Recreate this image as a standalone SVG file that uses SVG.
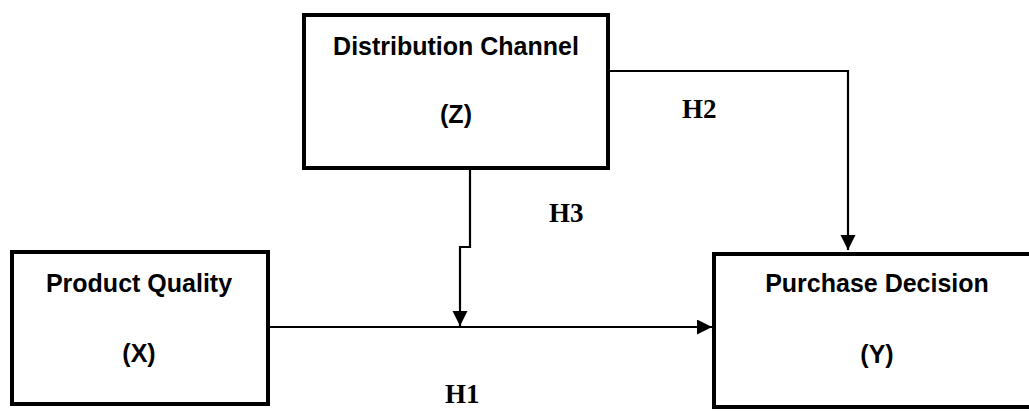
<svg xmlns="http://www.w3.org/2000/svg" width="1029" height="411" viewBox="0 0 1029 411">
<defs>
<style>
.box{fill:#fff;stroke:#000;stroke-width:4}
.lbl{font-family:"Liberation Sans",Arial,sans-serif;font-weight:bold;font-size:25px;fill:#000;text-anchor:middle}
.hyp{font-family:"Liberation Serif","Times New Roman",serif;font-weight:bold;font-size:27px;fill:#000}
.con{fill:none;stroke:#000;stroke-width:2.2}
</style>
<marker id="arr" markerWidth="16" markerHeight="16" refX="15" refY="7.5" orient="auto" markerUnits="userSpaceOnUse" viewBox="0 0 16 16">
<path d="M0,0 L15,7.5 L0,15 Z" fill="#000"/>
</marker>
</defs>
<rect width="1029" height="411" fill="#fff"/>
<g id="connectors">
<path class="con" d="M268,327 H712" marker-end="url(#arr)"/>
<path class="con" d="M470,168 V247 H460 V326" marker-end="url(#arr)"/>
<path class="con" d="M608,71 H848 V250" marker-end="url(#arr)"/>
</g>
<g id="node-z">
<rect class="box" x="304" y="15" width="304" height="153"/>
<text class="lbl" x="456" y="55">Distribution Channel</text>
<text class="lbl" x="456" y="123">(Z)</text>
</g>
<g id="node-x">
<rect class="box" x="12" y="252" width="256" height="152"/>
<text class="lbl" x="139" y="292">Product Quality</text>
<text class="lbl" x="139" y="362">(X)</text>
</g>
<g id="node-y">
<rect class="box" x="714" y="254" width="330" height="153"/>
<text class="lbl" x="877" y="292">Purchase Decision</text>
<text class="lbl" x="877" y="363">(Y)</text>
</g>
<g id="labels">
<text class="hyp" x="682" y="118">H2</text>
<text class="hyp" x="549" y="222">H3</text>
<text class="hyp" x="445" y="403">H1</text>
</g>
</svg>
